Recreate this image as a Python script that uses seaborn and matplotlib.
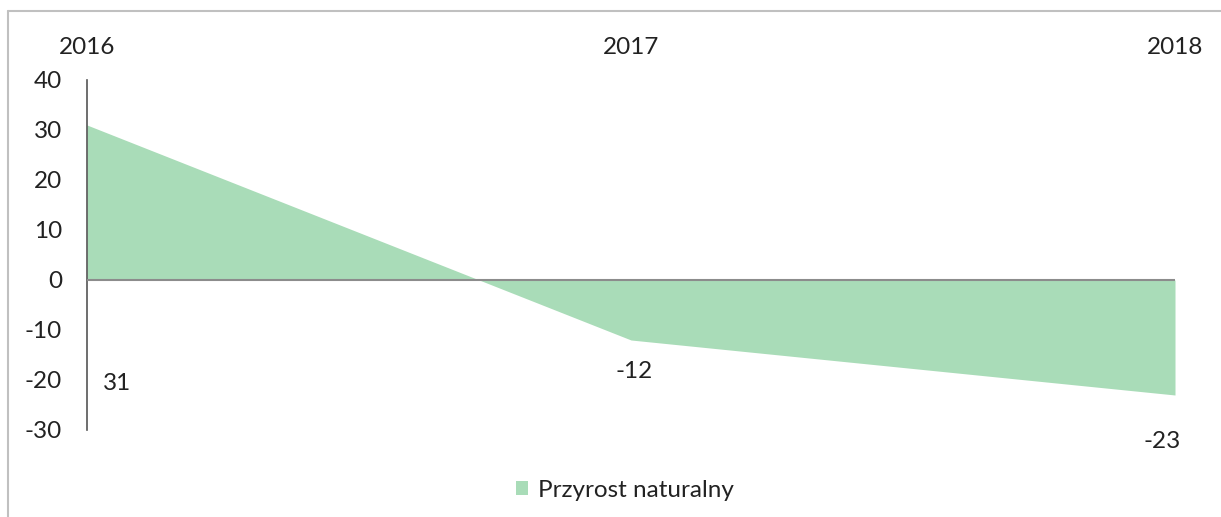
import matplotlib
matplotlib.use("Agg")
import matplotlib.pyplot as plt
import seaborn as sns
import pandas as pd
from matplotlib.lines import Line2D

# dane
years = ['2016', '2017', '2018']
values = [31, -12, -23]
series_name = 'Przyrost naturalny'

df = pd.DataFrame({'pos': range(len(years)), 'Rok': years, 'Wartosc': values})

sns.set_theme(style='white')
plt.rcParams['font.family'] = ['Lato', 'DejaVu Sans']
plt.rcParams['axes.unicode_minus'] = False

green = '#a9dcb8'
fs = 17.5

fig = plt.figure(figsize=(12.21, 5.17), dpi=100)
ax = fig.add_axes([87 / 1221, 87 / 517, 1088 / 1221, 350 / 517])

sns.lineplot(data=df, x='pos', y='Wartosc', ax=ax, linewidth=0, legend=False)
ax.fill_between(df['pos'], df['Wartosc'], 0, color=green, linewidth=0, label=series_name)
ax.axhline(0, color='#8c8c8c', linewidth=1.5, zorder=3)

ax.set_xlim(0, len(years) - 1)
ax.set_ylim(-30, 40)
ax.set_yticks(range(-30, 41, 10))
ax.set_xticks(df['pos'])
ax.set_xticklabels(years)
ax.xaxis.tick_top()
ax.tick_params(axis='x', length=0, pad=16, labelsize=fs, colors='#222222')
ax.tick_params(axis='y', length=0, pad=18, labelsize=fs, colors='#222222')
ax.set_xlabel('')
ax.set_ylabel('')

for side in ['top', 'right', 'bottom']:
    ax.spines[side].set_visible(False)
ax.spines['left'].set_color('#555555')
ax.spines['left'].set_linewidth(1.2)

# etykiety danych (Excel umieścił je w dziwnych miejscach)
offsets = [(30, -258), (3, -32), (-13, -47)]
for x, v, off in zip(df['pos'], df['Wartosc'], offsets):
    ax.annotate(str(v), xy=(x, v), xytext=off, textcoords='offset pixels',
                ha='center', va='center', fontsize=fs, color='#222222')

leg = fig.legend(loc='center', bbox_to_anchor=(0.512, 0.052), frameon=False,
                 fontsize=fs, handlelength=0.5, handleheight=0.5, handletextpad=0.4)
for t in leg.get_texts():
    t.set_color('#222222')

# ramka wykresu
fig.add_artist(Line2D([8 / 1221, 8 / 1221], [0, 1 - 11 / 517], transform=fig.transFigure,
                      color='#c0c0c0', linewidth=1.5))
fig.add_artist(Line2D([8 / 1221, 1], [1 - 11 / 517, 1 - 11 / 517], transform=fig.transFigure,
                      color='#c0c0c0', linewidth=1.5))

fig.savefig('out.png', dpi=100)
